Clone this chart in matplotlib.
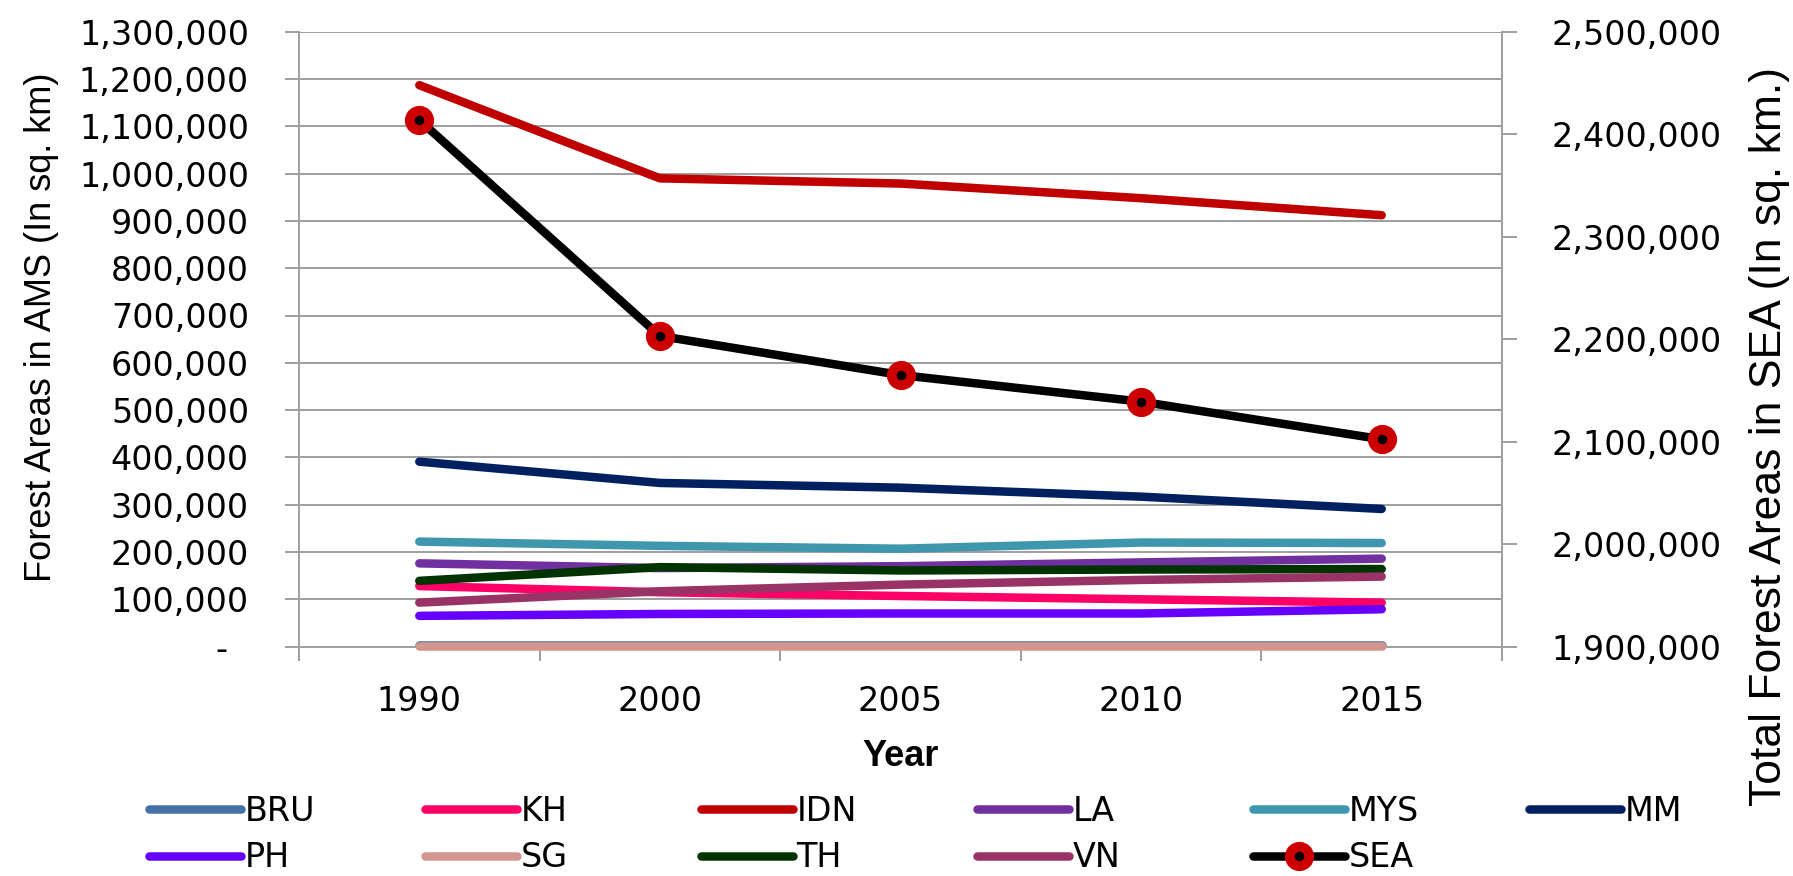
import matplotlib
matplotlib.use("Agg")
import matplotlib.pyplot as plt
from matplotlib.ticker import FuncFormatter, FixedLocator

years = ['1990', '2000', '2005', '2010', '2015']
BRU = [3000, 3000, 3000, 3000, 3000]
KH = [128000, 115000, 107000, 100000, 93000]
IDN = [1187000, 990000, 979000, 948000, 912000]
LA = [176000, 166000, 170000, 178000, 186000]
MYS = [222000, 213000, 207000, 220000, 219000]
MM = [391000, 346000, 336000, 317000, 291000]
PH = [65000, 69000, 70000, 70000, 79000]
SG = [2000, 2000, 2000, 2000, 2000]
TH = [139000, 168000, 161000, 163000, 164000]
VN = [93000, 117000, 131000, 141000, 148000]
SEA = [2413800, 2203100, 2165000, 2139000, 2102300]

series_names = ['BRU', 'KH', 'IDN', 'LA', 'MYS', 'MM', 'PH', 'SG', 'TH', 'VN']
series_vals = [BRU, KH, IDN, LA, MYS, MM, PH, SG, TH, VN]
colors = ['#4472a8', '#ff0066', '#c00000', '#7030a0', '#3f97ae', '#002060',
          '#6600ff', '#d39590', '#003300', '#993366']

W, H = 1793, 876
fig = plt.figure(figsize=(W / 100, H / 100), dpi=100)
L, R, T, B = 299, 1502, 31.7, 646.6
ax = fig.add_axes([L / W, 1 - B / H, (R - L) / W, (B - T) / H])

GRID = '#a0a0a0'
PX = 72 / 100  # points per pixel
LW = 8.5 * PX
TICKFONT = ['DejaVu Sans']
LABELFONT = ['Liberation Sans Narrow', 'Liberation Sans', 'DejaVu Sans']

x = list(range(len(years)))
handles = {}
for name, vals, c in zip(series_names, series_vals, colors):
    ln, = ax.plot(x, vals, color=c, lw=LW, solid_capstyle='round',
                  solid_joinstyle='round', label=name, clip_on=False, zorder=3)
    handles[name] = ln

ax.set_xlim(-0.5, len(years) - 0.5)
ax.set_ylim(0, 1300000)
ax.set_yticks(range(0, 1300001, 100000))

def left_fmt(v, pos):
    if v == 0:
        return '-  '
    return f'{int(v):,}'

ax.yaxis.set_major_formatter(FuncFormatter(left_fmt))
ax.grid(axis='y', color=GRID, lw=2 * PX)
ax.set_axisbelow(True)

ax.xaxis.set_major_locator(FixedLocator([i - 0.5 for i in range(len(years) + 1)]))
ax.xaxis.set_major_formatter(FuncFormatter(lambda v, p: ''))
ax.xaxis.set_minor_locator(FixedLocator(x))
ax.set_xticklabels(years, minor=True)
ax.tick_params(axis='x', which='major', direction='out', length=14 * PX,
               width=2 * PX, color=GRID)
ax.tick_params(axis='x', which='minor', length=0, pad=38 * PX, labelsize=24)
ax.tick_params(axis='y', which='major', direction='out', length=14 * PX,
               width=2 * PX, color=GRID, labelsize=24, pad=36 * PX)

ax.spines['top'].set_visible(False)
for s in ['left', 'bottom', 'right']:
    ax.spines[s].set_color(GRID)
    ax.spines[s].set_linewidth(2 * PX)
    ax.spines[s].set_zorder(1)

for lab in ax.get_xticklabels(minor=True) + ax.get_yticklabels():
    lab.set_family(TICKFONT)

ax2 = ax.twinx()
ax2.set_ylim(1900000, 2500000)
ax2.set_yticks(range(1900000, 2500001, 100000))
ax2.yaxis.set_major_formatter(FuncFormatter(lambda v, p: f'{int(v):,}'))
sea, = ax2.plot(x, SEA, color='black', lw=LW, solid_capstyle='round',
                marker='o', markersize=14, markerfacecolor='black',
                markeredgecolor='#cc0000', markeredgewidth=7, label='SEA')
handles['SEA'] = sea
ax2.tick_params(axis='y', direction='out', length=15 * PX, width=2 * PX,
                color=GRID, labelsize=24, pad=34 * PX)
for s in ['top', 'left', 'bottom']:
    ax2.spines[s].set_visible(False)
ax2.spines['right'].set_color(GRID)
ax2.spines['right'].set_linewidth(2 * PX)
for lab in ax2.get_yticklabels():
    lab.set_family(TICKFONT)

ax.set_ylabel('Forest Areas in AMS (In sq. km)', fontsize=26,
              family=LABELFONT, rotation=90, va='center', ha='center')
ax.yaxis.set_label_coords((42 - L) / (R - L), (B - 327) / (B - T))
ax2.set_ylabel('Total Forest Areas in SEA (In sq. km.)', fontsize=32,
               family=LABELFONT, rotation=90, va='center', ha='center')
ax2.yaxis.set_label_coords((1770 - L) / (R - L), (B - 437) / (B - T))

ax.set_xlabel('Year', fontsize=26, family=LABELFONT, fontweight='bold')
ax.xaxis.set_label_coords(0.5, -(757 - B) / (B - T))
ax.xaxis.label.set_va('center')

columns = [['BRU', 'PH'], ['KH', 'SG'], ['IDN', 'TH'], ['LA', 'VN'],
           ['MYS', 'SEA'], ['MM']]
for i, col in enumerate(columns):
    fig.legend([handles[n] for n in col], col, loc='upper left',
               bbox_to_anchor=((149 + 276 * i) / W, 1 - 795 / H),
               frameon=False, borderpad=0, borderaxespad=0,
               handlelength=92 * PX / 24, handletextpad=0.1,
               labelspacing=0.4, prop={'family': TICKFONT, 'size': 24})

fig.savefig('out.png', dpi=100)
